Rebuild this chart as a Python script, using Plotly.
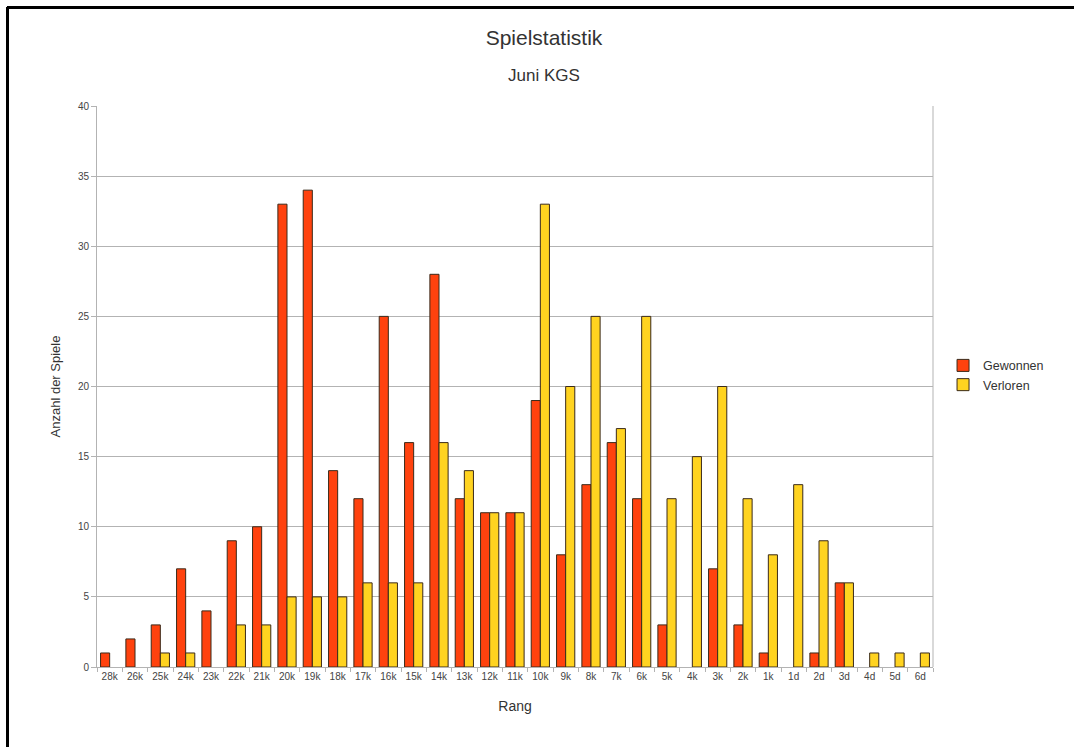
import plotly.graph_objects as go

categories = ["28k", "26k", "25k", "24k", "23k", "22k", "21k", "20k", "19k", "18k", "17k",
              "16k", "15k", "14k", "13k", "12k", "11k", "10k", "9k", "8k", "7k", "6k", "5k",
              "4k", "3k", "2k", "1k", "1d", "2d", "3d", "4d", "5d", "6d"]
gewonnen = [1, 2, 3, 7, 4, 9, 10, 33, 34, 14, 12, 25, 16, 28, 12, 11, 11, 19, 8, 13, 16, 12, 3,
            0, 7, 3, 1, 0, 1, 6, 0, 0, 0]
verloren = [0, 0, 1, 1, 0, 3, 3, 5, 5, 5, 6, 6, 6, 16, 14, 11, 11, 33, 20, 25, 17, 25, 12,
            15, 20, 12, 8, 13, 9, 6, 1, 1, 1]

FONT = "Liberation Sans"
W, H = 1074, 747
L, R, T, B = 97, 141, 106, 80
PW, PH = W - L - R, H - T - B
TITLE_X = (544 - L) / PW


def hide_zero(vals):
    return [v if v else None for v in vals]


fig = go.Figure()
fig.add_trace(go.Bar(x=categories, y=hide_zero(gewonnen), name="Gewonnen",
                     marker=dict(color="#FF420E", line=dict(color="#3a2a1a", width=1))))
fig.add_trace(go.Bar(x=categories, y=hide_zero(verloren), name="Verloren",
                     marker=dict(color="#FFD320", line=dict(color="#3a2a1a", width=1))))

fig.update_layout(
    width=W, height=H,
    margin=dict(l=L, r=R, t=T, b=B),
    paper_bgcolor="white", plot_bgcolor="white",
    barmode="group", bargap=0.28, bargroupgap=0,
    font=dict(family=FONT, color="#333333"),
    title=dict(text="Spielstatistik", x=TITLE_X, xanchor="center", xref="paper",
               y=1 - 38 / H, yanchor="middle", yref="container",
               font=dict(size=21, color="#333333", family=FONT)),
    legend=dict(x=1.012, y=0.52, xanchor="left", yanchor="middle",
                font=dict(size=12.5, color="#333333"), bgcolor="rgba(0,0,0,0)",
                itemwidth=30, tracegroupgap=0),
    xaxis=dict(
        title=dict(text="Rang", font=dict(size=14, color="#333333"), standoff=20),
        tickfont=dict(size=10, color="#444444"), tickangle=0,
        showgrid=False, showline=True, linecolor="#b3b3b3", linewidth=1,
        ticks="outside", tickson="boundaries", ticklen=4, tickcolor="#b3b3b3",
        mirror=False,
    ),
    yaxis=dict(
        title=dict(text="Anzahl der Spiele", font=dict(size=13, color="#333333"), standoff=14),
        tickfont=dict(size=10, color="#444444"),
        range=[0, 40], tickvals=[0, 5, 10, 15, 20, 25, 30, 35, 40],
        showgrid=True, gridcolor="#b3b3b3", gridwidth=1,
        showline=True, linecolor="#b3b3b3", linewidth=1,
        ticks="outside", ticklen=5, tickcolor="#b3b3b3",
        zeroline=False,
    ),
    annotations=[
        dict(text="Juni KGS", xref="paper", yref="paper", x=TITLE_X, y=1 + (T - 75) / PH,
             xanchor="center", yanchor="middle", showarrow=False,
             font=dict(size=17, color="#333333", family=FONT)),
    ],
    shapes=[
        # right border of plot wall
        dict(type="line", xref="paper", yref="paper", x0=1, x1=1, y0=0, y1=1,
             line=dict(color="#b3b3b3", width=1)),
        # black frame (top and left)
        dict(type="line", xref="paper", yref="paper",
             x0=-(L - 7) / PW, x1=(W - L) / PW,
             y0=1 + (T - 7.5) / PH, y1=1 + (T - 7.5) / PH,
             line=dict(color="black", width=3)),
        dict(type="line", xref="paper", yref="paper",
             x0=-(L - 7.5) / PW, x1=-(L - 7.5) / PW,
             y0=-B / PH, y1=1 + (T - 7) / PH,
             line=dict(color="black", width=3)),
    ],
)

fig.write_html("out.html", config={"displayModeBar": False},
               post_script="document.body.style.margin='0';")
